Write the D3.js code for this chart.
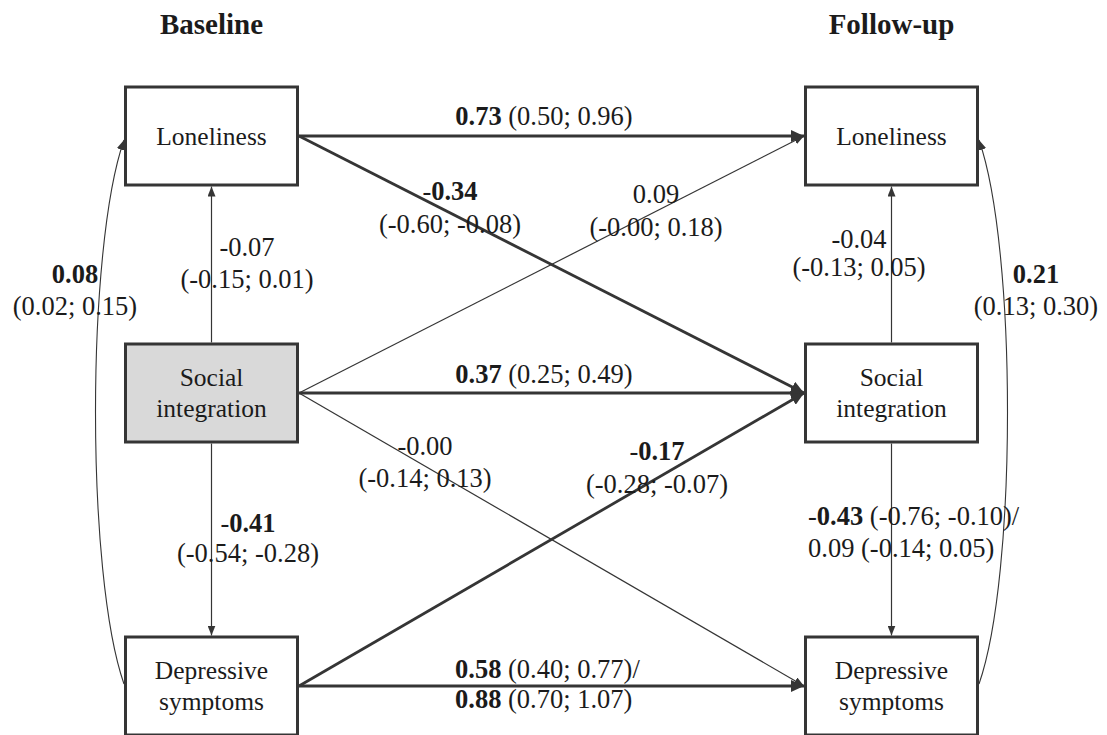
<!DOCTYPE html>
<html>
<head>
<meta charset="utf-8">
<script src="https://cdn.jsdelivr.net/npm/d3@7/dist/d3.min.js"></script>
<style>
  html, body { margin: 0; padding: 0; background: #ffffff; }
  svg { display: block; }
  svg text { font-family: "Liberation Serif", "Times New Roman", Times, serif; }
</style>
</head>
<body>
<svg id="chart" width="1107" height="735"></svg>
<script>
// Measurement waves (columns) and observed variables (rows)
const waves = ["Baseline", "Follow-up"];
const variables = ["Loneliness", "Social integration", "Depressive symptoms"];
const variableLines = [["Loneliness"], ["Social", "integration"], ["Depressive", "symptoms"]];
const exposure = ["Baseline", "Social integration"];   // shaded node

// Standardised path estimates with 95% confidence intervals
// (two estimates on one path = two model variants)
const crossPaths = [
  { id: "lonLon", from: ["Baseline", "Loneliness"],          to: ["Follow-up", "Loneliness"],          est: [0.73],  ci: [[0.50, 0.96]],  sig: [true] },
  { id: "lonSoc", from: ["Baseline", "Loneliness"],          to: ["Follow-up", "Social integration"],  est: [-0.34], ci: [[-0.60, -0.08]], sig: [true] },
  { id: "socLon", from: ["Baseline", "Social integration"],  to: ["Follow-up", "Loneliness"],          est: [0.09],  ci: [[-0.00, 0.18]], sig: [false] },
  { id: "socSoc", from: ["Baseline", "Social integration"],  to: ["Follow-up", "Social integration"],  est: [0.37],  ci: [[0.25, 0.49]],  sig: [true] },
  { id: "socDep", from: ["Baseline", "Social integration"],  to: ["Follow-up", "Depressive symptoms"], est: [-0.00], ci: [[-0.14, 0.13]], sig: [false] },
  { id: "depSoc", from: ["Baseline", "Depressive symptoms"], to: ["Follow-up", "Social integration"],  est: [-0.17], ci: [[-0.28, -0.07]], sig: [true] },
  { id: "depDep", from: ["Baseline", "Depressive symptoms"], to: ["Follow-up", "Depressive symptoms"], est: [0.58, 0.88], ci: [[0.40, 0.77], [0.70, 1.07]], sig: [true, true] }
];
const withinPaths = [
  { id: "blSocLon", from: ["Baseline", "Social integration"],  to: ["Baseline", "Loneliness"],           est: [-0.07], ci: [[-0.15, 0.01]], sig: [false] },
  { id: "blSocDep", from: ["Baseline", "Social integration"],  to: ["Baseline", "Depressive symptoms"],  est: [-0.41], ci: [[-0.54, -0.28]], sig: [true] },
  { id: "fuSocLon", from: ["Follow-up", "Social integration"], to: ["Follow-up", "Loneliness"],          est: [-0.04], ci: [[-0.13, 0.05]], sig: [false] },
  { id: "fuSocDep", from: ["Follow-up", "Social integration"], to: ["Follow-up", "Depressive symptoms"], est: [-0.43, 0.09], ci: [[-0.76, -0.10], [-0.14, 0.05]], sig: [true, false] }
];
const covariances = [
  { id: "blCov", wave: "Baseline",  from: "Depressive symptoms", to: "Loneliness", est: [0.08], ci: [[0.02, 0.15]], sig: [true] },
  { id: "fuCov", wave: "Follow-up", from: "Depressive symptoms", to: "Loneliness", est: [0.21], ci: [[0.13, 0.30]], sig: [true] }
];

// ---- layout ----
const svg = d3.select("#chart");
const ink = "#353535";
const textInk = "#1b1b1b";
const boxW = 172, boxH = 98, boxStroke = 3;
const labelSize = 26.5, nodeSize = 25.5, titleSize = 29;

const xWave = d3.scalePoint().domain(waves).range([211.5, 891.5]);
const yVar = d3.scaleOrdinal().domain(variables).range([136, 393, 686]);

// where each coefficient label sits and how it is arranged
const labelLayout = {
  lonLon:   { mode: "inline", x: 544, y: 125 },
  lonSoc:   { mode: "stack",  x: 450, y: 200, gap: 33 },
  socLon:   { mode: "stack",  x: 656, y: 203, gap: 33 },
  socSoc:   { mode: "inline", x: 544, y: 383 },
  socDep:   { mode: "stack",  x: 425, y: 455, gap: 32 },
  depSoc:   { mode: "stack",  x: 657, y: 460, gap: 33 },
  depDep:   { mode: "pair",   x: 455, y: 678, gap: 30 },
  blSocLon: { mode: "stack",  x: 247, y: 256, gap: 32 },
  blSocDep: { mode: "stack",  x: 248, y: 532, gap: 30 },
  fuSocLon: { mode: "stack",  x: 859, y: 248, gap: 28 },
  fuSocDep: { mode: "pair",   x: 808, y: 525, gap: 32 },
  blCov:    { mode: "stack",  x: 75,  y: 283, gap: 32 },
  fuCov:    { mode: "stack",  x: 1036, y: 283, gap: 32 }
};

// ---- arrowheads ----
const defs = svg.append("defs");
function marker(id, len, wid) {
  defs.append("marker")
    .attr("id", id)
    .attr("viewBox", `0 ${-wid / 2} ${len} ${wid}`)
    .attr("refX", len).attr("refY", 0)
    .attr("markerWidth", len).attr("markerHeight", wid)
    .attr("markerUnits", "userSpaceOnUse")
    .attr("orient", "auto")
    .append("path")
    .attr("d", `M0,${-wid / 2}L${len},0L0,${wid / 2}Z`)
    .attr("fill", ink);
}
marker("headThick", 13, 12);
marker("headThin", 10, 8);

const edgeLayer = svg.append("g");
const nodeLayer = svg.append("g");
const labelLayer = svg.append("g").attr("fill", textInk);

// ---- cross-lagged and autoregressive paths ----
edgeLayer.selectAll("line.cross")
  .data(crossPaths)
  .join("line")
  .attr("class", "cross")
  .attr("x1", d => xWave(d.from[0]) + boxW / 2 + boxStroke / 2)
  .attr("y1", d => yVar(d.from[1]))
  .attr("x2", d => xWave(d.to[0]) - boxW / 2 - boxStroke / 2)
  .attr("y2", d => yVar(d.to[1]))
  .attr("stroke", ink)
  .attr("stroke-width", d => d.sig[0] ? 2.8 : 1.2)
  .attr("marker-end", d => d.sig[0] ? "url(#headThick)" : "url(#headThin)");

// ---- within-wave paths from social integration ----
edgeLayer.selectAll("line.within")
  .data(withinPaths)
  .join("line")
  .attr("class", "within")
  .attr("x1", d => xWave(d.from[0]))
  .attr("x2", d => xWave(d.to[0]))
  .attr("y1", d => {
    const up = yVar(d.to[1]) < yVar(d.from[1]);
    return yVar(d.from[1]) + (up ? -1 : 1) * (boxH / 2 + boxStroke / 2);
  })
  .attr("y2", d => {
    const up = yVar(d.to[1]) < yVar(d.from[1]);
    return yVar(d.to[1]) + (up ? 1 : -1) * (boxH / 2 + boxStroke / 2);
  })
  .attr("stroke", ink)
  .attr("stroke-width", 1.2)
  .attr("marker-end", "url(#headThin)");

// ---- residual covariances (curved, outside the columns) ----
edgeLayer.selectAll("path.cov")
  .data(covariances)
  .join("path")
  .attr("class", "cov")
  .attr("d", d => {
    const side = d.wave === waves[0] ? -1 : 1;
    const xe = xWave(d.wave) + side * (boxW / 2 + boxStroke / 2);
    const yTop = yVar(d.to) + 4;
    const yBot = yVar(d.from) - 2;
    const span = yBot - yTop;
    const bulge = 38;
    const p = d3.path();
    p.moveTo(xe, yBot);
    p.bezierCurveTo(xe + side * bulge, yBot - 0.2 * span, xe + side * bulge, yTop + 0.2 * span, xe, yTop);
    return p.toString();
  })
  .attr("fill", "none")
  .attr("stroke", ink)
  .attr("stroke-width", 1.1)
  .attr("marker-end", "url(#headThin)");

// ---- variable boxes ----
const nodes = [];
waves.forEach(w => variables.forEach((v, i) => nodes.push({ wave: w, variable: v, lines: variableLines[i] })));

const node = nodeLayer.selectAll("g.node")
  .data(nodes)
  .join("g")
  .attr("class", "node")
  .attr("transform", d => `translate(${xWave(d.wave)},${yVar(d.variable)})`);

node.append("rect")
  .attr("x", -boxW / 2).attr("y", -boxH / 2)
  .attr("width", boxW).attr("height", boxH)
  .attr("fill", d => (d.wave === exposure[0] && d.variable === exposure[1]) ? "#d9d9d9" : "#ffffff")
  .attr("stroke", ink)
  .attr("stroke-width", boxStroke);

node.append("text")
  .attr("font-size", nodeSize)
  .attr("fill", textInk)
  .attr("text-anchor", "middle")
  .selectAll("tspan")
  .data(d => d.lines.map((t, i) => ({ t, i, n: d.lines.length })))
  .join("tspan")
  .attr("x", 0)
  .attr("y", d => -(d.n - 1) * 31 / 2 + d.i * 31 + 8.5)
  .text(d => d.t);

// ---- wave titles ----
svg.append("g")
  .selectAll("text")
  .data(waves)
  .join("text")
  .attr("x", d => xWave(d))
  .attr("y", 34)
  .attr("text-anchor", "middle")
  .attr("font-weight", "bold")
  .attr("font-size", titleSize)
  .attr("fill", textInk)
  .text(d => d);

// ---- coefficient labels ----
const fmt = v => ((v < 0 || Object.is(v, -0)) ? "-" : "") + Math.abs(v).toFixed(2);
const ciText = c => `(${fmt(c[0])}; ${fmt(c[1])})`;
function estParts(v, sig) {
  if (!sig) return [{ t: fmt(v), b: false }];
  const neg = v < 0 || Object.is(v, -0);
  return neg ? [{ t: "-", b: false }, { t: Math.abs(v).toFixed(2), b: true }]
             : [{ t: Math.abs(v).toFixed(2), b: true }];
}
function labelLines(d, mode) {
  if (mode === "inline") return [[...estParts(d.est[0], d.sig[0]), { t: " " + ciText(d.ci[0]), b: false }]];
  if (mode === "stack") return [estParts(d.est[0], d.sig[0]), [{ t: ciText(d.ci[0]), b: false }]];
  return d.est.map((v, i) => [...estParts(v, d.sig[i]),
    { t: " " + ciText(d.ci[i]) + (i < d.est.length - 1 ? "/" : ""), b: false }]);
}

const allPaths = [...crossPaths, ...withinPaths, ...covariances];
allPaths.forEach(d => {
  const L = labelLayout[d.id];
  const lines = labelLines(d, L.mode);
  lines.forEach((parts, i) => {
    const txt = labelLayer.append("text")
      .attr("x", L.x)
      .attr("y", L.y + i * (L.gap || 0))
      .attr("font-size", labelSize)
      .attr("text-anchor", L.mode === "pair" ? "start" : "middle")
      .attr("xml:space", "preserve");
    txt.selectAll("tspan")
      .data(parts)
      .join("tspan")
      .attr("font-weight", p => p.b ? "bold" : "normal")
      .text(p => p.t);
  });
});
</script>
</body>
</html>
